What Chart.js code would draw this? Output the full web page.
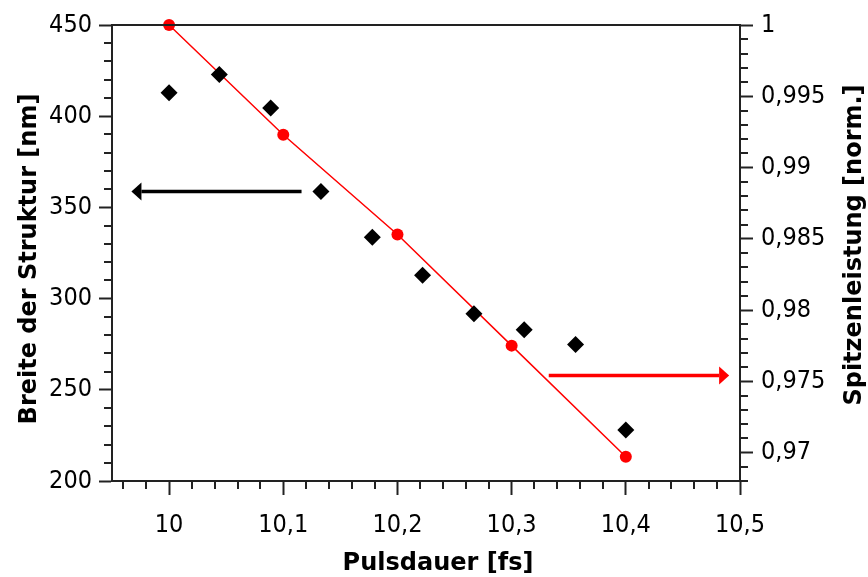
<!DOCTYPE html>
<html>
<head>
<meta charset="utf-8">
<script src="https://cdn.jsdelivr.net/npm/chart.js@4.4.1/dist/chart.umd.min.js"></script>
<style>
  html, body { margin: 0; padding: 0; background: #fff; }
  #wrap { width: 868px; height: 577px; }
</style>
</head>
<body>
<div id="wrap"><canvas id="c"></canvas></div>
<script>
// Structure width (left axis) against pulse duration
const widthPulse = [10.0, 10.044, 10.089, 10.133, 10.178, 10.222, 10.267, 10.311, 10.356, 10.4];
const widthNm    = [412.8, 422.9, 404.5, 358.7, 333.6, 312.8, 291.7, 282.9, 274.8, 227.9];

// Normalised peak power (right axis) against pulse duration
const peakPulse = [10.0, 10.1, 10.2, 10.3, 10.4];
const peakPower = [1.0, 0.9923, 0.9853, 0.9775, 0.9697];

// Axis ticks
const xTicks      = [10, 10.1, 10.2, 10.3, 10.4, 10.5];
const yLeftTicks  = [200, 250, 300, 350, 400, 450];
const yRightTicks = [0.97, 0.975, 0.98, 0.985, 0.99, 0.995, 1];

// Arrows pointing to the axis each series belongs to (data coordinates)
const leftArrow  = { from: 10.116, to: 9.967, at: 358.7 };
const rightArrow = { from: 10.3325, to: 10.4905, at: 0.9754 };

const comma = v => String(v).replace('.', ',');

// Minor tick positions
function minorTicks(min, max, step, majors) {
  const out = [];
  const n = Math.round((max - min) / step);
  for (let i = 0; i <= n; i++) {
    const v = +(min + i * step).toFixed(6);
    if (!majors.some(m => Math.abs(m - v) < step / 10)) out.push(v);
  }
  return out;
}
const xMinor  = minorTicks(9.96, 10.48, 0.02, xTicks);
const yLMinor = minorTicks(210, 440, 10, yLeftTicks);
const yRMinor = minorTicks(0.968, 0.999, 0.001, yRightTicks);

const AXIS_COLOR = '#222';
const TICK_FONT = { family: '"DejaVu Sans Condensed", "DejaVu Sans", sans-serif', size: 25 };
const TITLE_FONT = '"DejaVu Sans", sans-serif';

function drawArrow(ctx, x1, y, x2, color, width) {
  const dir = Math.sign(x2 - x1);
  const head = 10, half = 9;
  ctx.strokeStyle = color;
  ctx.fillStyle = color;
  ctx.lineWidth = width;
  ctx.beginPath();
  ctx.moveTo(x1, y);
  ctx.lineTo(x2 - dir * head, y);
  ctx.stroke();
  ctx.beginPath();
  ctx.moveTo(x2, y);
  ctx.lineTo(x2 - dir * head, y - half);
  ctx.lineTo(x2 - dir * head, y + half);
  ctx.closePath();
  ctx.fill();
}

const decorations = {
  id: 'decorations',
  afterDraw(chart) {
    const { ctx, chartArea: a, scales } = chart;
    ctx.save();
    ctx.strokeStyle = AXIS_COLOR;
    ctx.lineWidth = 2;
    // top frame line
    ctx.beginPath();
    ctx.moveTo(a.left - 1, Math.round(a.top));
    ctx.lineTo(a.right + 1, Math.round(a.top));
    ctx.stroke();
    // minor ticks
    ctx.beginPath();
    xMinor.forEach(v => {
      const px = Math.round(scales.x.getPixelForValue(v));
      ctx.moveTo(px, a.bottom); ctx.lineTo(px, a.bottom + 8);
    });
    yLMinor.forEach(v => {
      const py = Math.round(scales.y.getPixelForValue(v));
      ctx.moveTo(a.left, py); ctx.lineTo(a.left - 8, py);
    });
    yRMinor.forEach(v => {
      const py = Math.round(scales.y2.getPixelForValue(v));
      ctx.moveTo(a.right, py); ctx.lineTo(a.right + 8, py);
    });
    ctx.stroke();

    // series arrows
    drawArrow(ctx,
      scales.x.getPixelForValue(leftArrow.from),
      scales.y.getPixelForValue(leftArrow.at),
      scales.x.getPixelForValue(leftArrow.to), '#000', 3.5);
    drawArrow(ctx,
      scales.x.getPixelForValue(rightArrow.from),
      scales.y2.getPixelForValue(rightArrow.at),
      scales.x.getPixelForValue(rightArrow.to), '#ff0000', 3.5);

    // axis titles
    ctx.fillStyle = '#000';
    ctx.font = 'bold 24px ' + TITLE_FONT;
    ctx.textAlign = 'center';
    ctx.textBaseline = 'middle';
    ctx.fillText('Pulsdauer [fs]', (a.left + a.right) / 2 + 12, 564);
    ctx.save();
    ctx.translate(30, (a.top + a.bottom) / 2 + 6);
    ctx.rotate(-Math.PI / 2);
    ctx.fillText('Breite der Struktur [nm]', 0, 0);
    ctx.restore();
    ctx.translate(855, (a.top + a.bottom) / 2 - 8);
    ctx.rotate(-Math.PI / 2);
    ctx.fillText('Spitzenleistung [norm.]', 0, 0);
    ctx.restore();
  }
};

const fixedTicks = list => scale => { scale.ticks = list.map(v => ({ value: v })); };

new Chart(document.getElementById('c'), {
  type: 'scatter',
  data: {
    datasets: [
      {
        data: widthPulse.map((x, i) => ({ x, y: widthNm[i] })),
        yAxisID: 'y',
        pointStyle: 'rectRot',
        pointRadius: 8.5,
        backgroundColor: '#000',
        borderColor: '#000',
        borderWidth: 0,
        showLine: false
      },
      {
        data: peakPulse.map((x, i) => ({ x, y: peakPower[i] })),
        yAxisID: 'y2',
        showLine: true,
        tension: 0,
        borderColor: '#ff0000',
        borderWidth: 1.5,
        pointRadius: 6,
        pointBackgroundColor: '#ff0000',
        pointBorderWidth: 0,
        clip: false
      }
    ]
  },
  options: {
    responsive: true,
    maintainAspectRatio: false,
    animation: false,
    events: [],
    layout: { padding: { top: 25, left: 0, right: 0, bottom: 0 } },
    plugins: { legend: { display: false }, tooltip: { enabled: false } },
    scales: {
      x: {
        type: 'linear',
        min: 9.95, max: 10.5,
        afterBuildTicks: fixedTicks(xTicks),
        afterFit: s => { s.height = 96; },
        border: { display: true, color: AXIS_COLOR, width: 2 },
        grid: { drawOnChartArea: false, drawTicks: true, tickLength: 14, tickWidth: 2, tickColor: AXIS_COLOR },
        ticks: { color: '#000', font: TICK_FONT, padding: 15, maxRotation: 0, autoSkip: false, callback: v => comma(v) }
      },
      y: {
        type: 'linear',
        position: 'left',
        min: 200, max: 450,
        afterBuildTicks: fixedTicks(yLeftTicks),
        afterFit: s => { s.width = 112; },
        border: { display: true, color: AXIS_COLOR, width: 2 },
        grid: { drawOnChartArea: false, drawTicks: true, tickLength: 13, tickWidth: 2, tickColor: AXIS_COLOR },
        ticks: { color: '#000', font: TICK_FONT, padding: 7, autoSkip: false, callback: v => comma(v) }
      },
      y2: {
        type: 'linear',
        position: 'right',
        min: 0.968, max: 1,
        afterBuildTicks: fixedTicks(yRightTicks),
        afterFit: s => { s.width = 128; },
        border: { display: true, color: AXIS_COLOR, width: 2 },
        grid: { drawOnChartArea: false, drawTicks: true, tickLength: 13, tickWidth: 2, tickColor: AXIS_COLOR },
        ticks: { color: '#000', font: TICK_FONT, padding: 8, autoSkip: false, callback: v => comma(v) }
      }
    }
  },
  plugins: [decorations]
});
</script>
</body>
</html>
